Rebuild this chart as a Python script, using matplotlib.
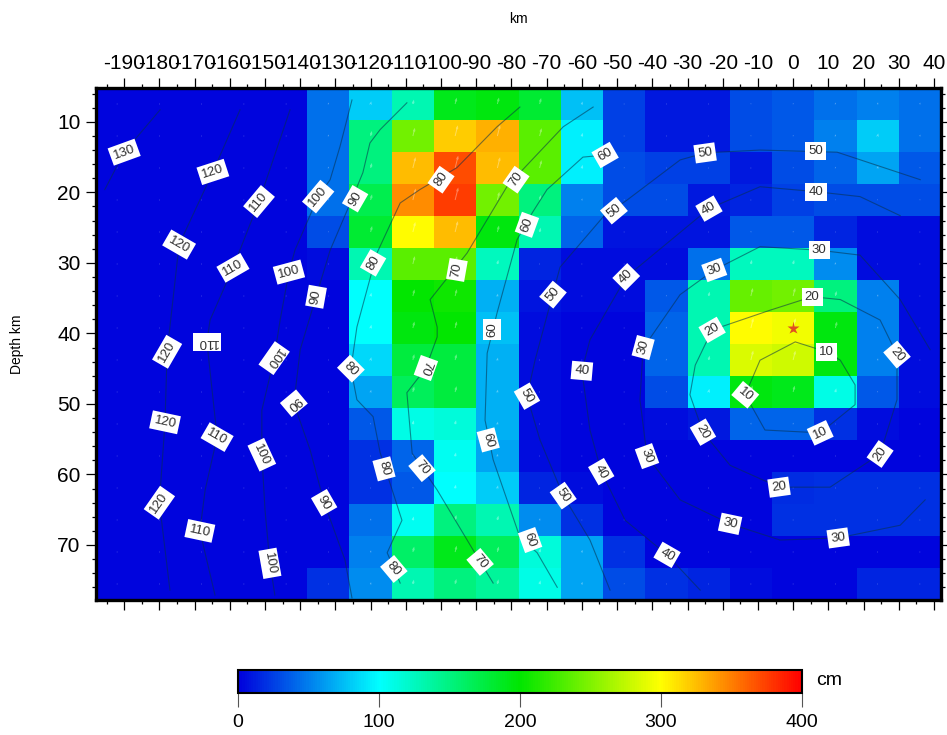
import numpy as np
import matplotlib
matplotlib.use('Agg')
import matplotlib.pyplot as plt
from matplotlib.colors import LinearSegmentedColormap
from matplotlib.ticker import MultipleLocator

plt.rcParams['font.family'] = ['Liberation Sans', 'DejaVu Sans']

# slip in cm, one row per depth cell (top to bottom), 20 columns along strike
slip = np.array([
    [3, 3, 3, 3, 3, 45, 80, 130, 190, 195, 180, 75, 25, 10, 10, 30, 35, 45, 50, 45],
    [3, 3, 3, 3, 3, 45, 150, 245, 320, 330, 235, 95, 25, 10, 10, 30, 35, 50, 80, 45],
    [3, 3, 3, 3, 3, 45, 150, 325, 370, 325, 235, 95, 30, 25, 25, 10, 30, 40, 65, 35],
    [3, 3, 3, 3, 3, 45, 170, 345, 375, 245, 150, 50, 30, 30, 10, 15, 25, 30, 30, 30],
    [3, 3, 3, 3, 3, 30, 180, 300, 325, 195, 130, 40, 8, 8, 8, 35, 35, 15, 5, 5],
    [3, 3, 3, 3, 3, 5, 130, 235, 235, 125, 15, 5, 5, 5, 45, 125, 125, 55, 5, 5],
    [3, 3, 3, 3, 3, 3, 100, 200, 205, 70, 8, 5, 5, 35, 130, 240, 245, 150, 50, 5],
    [3, 3, 3, 3, 3, 3, 100, 195, 200, 75, 5, 3, 3, 40, 130, 300, 295, 195, 50, 5],
    [3, 3, 3, 3, 3, 3, 85, 175, 175, 70, 5, 3, 3, 40, 130, 285, 280, 195, 50, 5],
    [3, 3, 3, 3, 3, 3, 65, 165, 175, 70, 5, 3, 3, 30, 95, 195, 190, 110, 35, 5],
    [3, 3, 3, 3, 3, 3, 35, 110, 115, 70, 5, 3, 3, 5, 10, 40, 40, 20, 5, 3],
    [3, 3, 3, 3, 3, 3, 20, 40, 105, 65, 5, 3, 3, 3, 3, 3, 3, 3, 3, 3],
    [3, 3, 3, 3, 3, 3, 20, 35, 100, 80, 15, 5, 3, 3, 3, 3, 18, 20, 20, 20],
    [3, 3, 3, 3, 3, 3, 45, 105, 150, 130, 55, 20, 3, 3, 3, 3, 20, 20, 20, 20],
    [3, 3, 3, 3, 3, 3, 50, 160, 190, 165, 115, 65, 20, 3, 3, 3, 3, 3, 3, 3],
    [3, 3, 3, 3, 3, 20, 55, 130, 150, 140, 110, 65, 30, 20, 15, 5, 3, 3, 15, 15],
])

# rupture time contours: (km along strike, depth km)
c10 = [(9.4, 42.6), (0.6, 41.2), (-9.4, 43.8), (-13.6, 48.7), (-8, 53.7), (7.7, 54.1), (17.6, 50.1), (17.6, 47.3), (13.4, 43.8), (9.4, 42.6)]
c20 = [(5.4, 34.8), (-6.5, 36.7), (-23, 39.5), (-27.8, 44.5), (-29.3, 48.7), (-25.6, 54), (-17.9, 58.7), (-4, 61.8), (10.5, 61.8), (24.7, 57.1), (29.5, 49.4), (29.5, 43), (24.7, 38.1), (13.4, 35.2), (5.4, 34.8)]
c30 = [(38.9, 42.3), (30.4, 35.2), (19, 28.9), (7.4, 28.2), (-9.4, 27.7), (-22.4, 31), (-32.1, 34.5), (-42.6, 42.1), (-43.5, 49.4), (-41.5, 57.4), (-32.1, 63.6), (-17.9, 67), (-3.7, 69.3), (12.8, 69), (30.4, 67.2), (37.5, 63.6)]
c40 = [(30.4, 23.3), (19, 20.6), (6.5, 19.9), (-9.4, 19.2), (-23.9, 22.3), (-47.4, 32), (-57.7, 40.9), (-60, 45.3), (-57.7, 53.7), (-54.5, 59.6), (-47.7, 66.5), (-35.8, 71.4), (-26.4, 76.4)]
c50 = [(36.1, 18.2), (12.5, 14.3), (-9.4, 14), (-25, 14.4), (-32.1, 15.4), (-47.2, 21.1), (-54, 23.5), (-66.2, 30.6), (-73.3, 43.8), (-75.6, 48.9), (-71.9, 55.1), (-65.3, 63), (-57.7, 69.3), (-52, 76.4)]
c60 = [(-53.4, 14.7), (-59.7, 15), (-69.9, 19.6), (-74.1, 22.9), (-78.4, 26.7), (-84.1, 37.1), (-86.9, 42.8), (-87.5, 52.3), (-85.2, 57.9), (-77.6, 68.9), (-72.7, 71.1), (-67, 76)]
c70 = [(-56.8, 7.9), (-65.3, 10.7), (-77.6, 17.2), (-81.3, 19.2), (-92.6, 28.6), (-103.1, 35.2), (-101.1, 39.1), (-101.1, 40.5), (-104.3, 44.9), (-109.7, 48.4), (-108.2, 57), (-101.1, 62.2), (-90.9, 70.7), (-85.2, 75.4)]
c80 = [(-77.6, 7.9), (-84.1, 10.7), (-95.5, 16.5), (-106, 19.6), (-111.6, 21.5), (-118.2, 28.6), (-123.9, 39.1), (-125.6, 45), (-123.9, 49.4), (-119.3, 51.8), (-117.3, 56.9), (-111.1, 66.5), (-115.3, 71.1), (-111.6, 75.4)]
c90 = [(-109.7, 7.3), (-117.3, 11.1), (-120.2, 13), (-122.2, 17.2), (-125, 20.6), (-131.5, 28.2), (-135.5, 34.8), (-140, 42.3), (-141.8, 49.9), (-137.2, 56.5), (-133.2, 64), (-127.3, 72.1), (-125.3, 77.5)]
c100 = [(-125.3, 6.9), (-128.7, 13.5), (-131.5, 18.2), (-134.9, 20.6), (-141.5, 28.2), (-143.2, 31.3), (-145.7, 38.1), (-147.4, 43.5), (-150.9, 50.9), (-150.9, 57.2), (-150, 65), (-148.6, 72.6), (-147.2, 77.1)]
c110 = [(-142.9, 8.3), (-151.7, 21.3), (-159.1, 30.7), (-165.6, 38.1), (-166.5, 41.2), (-163.6, 54.7), (-167, 62.2), (-168.5, 68), (-164.2, 77.1)]
c120 = [(-157.1, 8.3), (-164.8, 17.1), (-174.4, 27.4), (-177.8, 42.6), (-178.4, 52.6), (-180, 64), (-177, 76.4)]
c130 = [(-179.8, 8.3), (-190, 14.3), (-195.5, 19.6)]
contours = [c10, c20, c30, c40, c50, c60, c70, c80, c90, c100, c110, c120, c130]

# contour labels: text, x, depth, rotation
labels = [
    ('130', -190, 14.3, 20), ('120', -164.8, 17.1, 18), ('110', -151.7, 21.3, 50),
    ('100', -134.9, 20.6, 50), ('90', -124.4, 20.9, 60), ('80', -100, 18.2, 55),
    ('70', -78.7, 18.2, 55), ('60', -53.4, 14.7, 30), ('50', -25, 14.4, 8),
    ('50', 6.3, 14.1, 0), ('40', 6.5, 19.9, 0), ('50', -50.9, 22.6, 40),
    ('40', -23.9, 22.3, 30), ('60', -75.6, 24.6, 70), ('30', 7.4, 28.2, 0),
    ('30', -22.4, 31, 20), ('40', -47.4, 32, 45), ('20', 5.4, 34.8, 0),
    ('50', -68.2, 34.5, 50), ('120', -174.4, 27.4, -30), ('110', -159.1, 30.7, 30),
    ('100', -143.2, 31.3, 15), ('90', -135.5, 34.8, 80), ('80', -119.3, 30, 60),
    ('70', -95.5, 31, 80), ('60', -85.5, 39.5, 90), ('20', -23, 39.5, 30),
    ('30', -42.6, 42, 75), ('40', -60, 45.3, -5), ('50', -75.6, 48.9, -60),
    ('10', 9.4, 42.6, 0), ('20', 29.5, 43, -50), ('120', -177.8, 42.6, 60),
    ('110', -166.5, 41.2, 180), ('100', -147.4, 43.5, 235), ('90', -141.8, 49.9, 220),
    ('80', -125.6, 45, -45), ('70', -104.3, 44.9, 250), ('120', -178.4, 52.6, -12),
    ('110', -163.6, 54.7, -30), ('100', -150.9, 57.2, -65), ('60', -86.6, 55.1, -75),
    ('80', -116.2, 59.2, -75), ('70', -105.4, 59.1, -50), ('10', -13.6, 48.7, -40),
    ('20', -25.6, 54, -60), ('10', 7.7, 54.1, 25), ('20', 24.7, 57.1, 55),
    ('30', -41.5, 57.4, -70), ('40', -54.5, 59.6, -60), ('50', -65.3, 63, -55),
    ('120', -180, 64, 55), ('90', -133.2, 64, -60), ('20', -4, 61.8, 8),
    ('110', -168.5, 68, -12), ('30', -17.9, 67, -12), ('30', 12.8, 69, 8),
    ('40', -35.8, 71.4, -30), ('60', -74.7, 69.3, -70), ('100', -148.6, 72.6, -80),
    ('80', -113.4, 73.4, -50), ('70', -88.9, 72.4, -50),
]

x_ticks = list(range(-190, 41, 10))
y_ticks = [10, 20, 30, 40, 50, 60, 70]
cbar_ticks = [0, 100, 200, 300, 400]
epicentre = (0, 39.2)

cmap = LinearSegmentedColormap.from_list('slip', ['#0000dc', '#00ffff', '#00e600', '#ffff00', '#ff0000'])

fig = plt.figure(figsize=(9.47, 7.35), dpi=100)
ax = fig.add_axes([96 / 947, 135 / 735, 845 / 947, 512 / 735])

x_edges = np.linspace(-198, 42, slip.shape[1] + 1)
y_edges = np.linspace(5.2, 77.8, slip.shape[0] + 1)
mesh = ax.pcolormesh(x_edges, y_edges, slip, cmap=cmap, vmin=0, vmax=400)

# rake arrows, nearly just dots where the slip is small
xc = (x_edges[:-1] + x_edges[1:]) / 2
yc = (y_edges[:-1] + y_edges[1:]) / 2
X, Y = np.meshgrid(xc, yc)
ax.quiver(X, Y, slip * 0.2, slip * 0.8, color='white', alpha=0.35, angles='uv',
          scale_units='dots', scale=24, units='dots', width=1, headwidth=2.5,
          headlength=3, zorder=2)

for c in contours:
    c = np.array(c)
    ax.plot(c[:, 0], c[:, 1], color='#08304a', lw=0.8, alpha=0.55, zorder=3)

for txt, lx, ly, rot in labels:
    ax.text(lx, ly, txt, rotation=rot, rotation_mode='anchor', ha='center', va='center',
            fontsize=9.5, color='#303030', zorder=5,
            bbox=dict(boxstyle='square,pad=0.24', fc='white', ec='none'))

ax.plot(*epicentre, marker='*', ms=9.5, color='#e05020', mec='none', zorder=4)

ax.set_xlim(-198, 42)
ax.set_ylim(77.8, 5.2)

ax.set_xticks(x_ticks)
ax.set_xticklabels([str(v) for v in x_ticks])
ax.set_yticks(y_ticks)
ax.xaxis.set_minor_locator(MultipleLocator(5))
ax.yaxis.set_minor_locator(MultipleLocator(2))
ax.tick_params(which='major', top=True, bottom=True, left=True, right=True, labeltop=True,
               labelbottom=False, length=7, width=0.9, labelsize=15, pad=4)
ax.tick_params(which='minor', top=True, bottom=True, left=True, right=True, length=3, width=0.9)
for s in ax.spines.values():
    s.set_linewidth(2.4)

ax.xaxis.set_label_position('top')
ax.set_xlabel('km', fontsize=10, labelpad=22)
ax.set_ylabel('Depth km', fontsize=10, labelpad=24)

cax = fig.add_axes([238 / 947, 42 / 735, 564 / 947, 23 / 735])
cb = fig.colorbar(mesh, cax=cax, orientation='horizontal', ticks=cbar_ticks)
cb.outline.set_linewidth(1.5)
cb.ax.tick_params(length=10, width=0.8, labelsize=14, pad=5, color='#555555')
cax.text(1.025, 0.55, 'cm', transform=cax.transAxes, fontsize=14, va='center', ha='left')

fig.savefig('out.png', dpi=100)
